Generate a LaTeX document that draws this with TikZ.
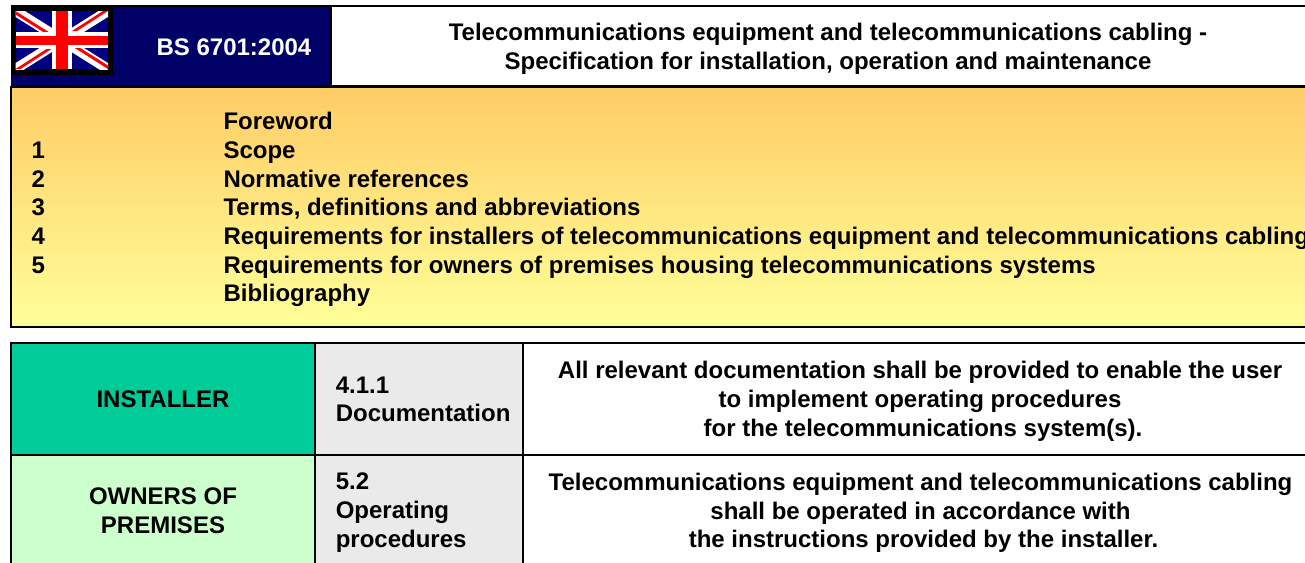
\documentclass[tikz,border=0pt]{standalone}
\usepackage{fontspec}
\setmainfont{Liberation Sans}
\definecolor{hdrnavy}{RGB}{0,0,102}
\definecolor{flagblue}{RGB}{0,0,128}
\definecolor{flagred}{RGB}{255,0,0}
\definecolor{inst}{RGB}{0,204,153}
\definecolor{own}{RGB}{204,255,204}
\definecolor{clausegrey}{RGB}{234,234,234}
\definecolor{orangetop}{RGB}{255,204,102}
\definecolor{yellowbot}{RGB}{255,255,153}
\tikzset{
  cellbox/.style={draw=black,line width=2pt},
  txt/.style={font=\fontsize{24}{28.7}\selectfont\bfseries,text=black,inner sep=0pt,align=center},
  listtxt/.style={font=\fontsize{24}{28.7}\selectfont\bfseries,text=black,inner sep=0pt,anchor=base west},
  clausetxt/.style={font=\fontsize{24}{28.7}\selectfont\bfseries,text=black,inner sep=0pt,align=left,anchor=west},
}
\begin{document}
\begin{tikzpicture}[x=1pt,y=-1pt]
\useasboundingbox (0,0) rectangle (1305,562);
\clip (0,0) rectangle (1305,562);
% header
\fill[hdrnavy] (11,6) rectangle (331,86);
\draw[cellbox,fill=white] (331,6) rectangle (1320,86);
\draw[line width=2pt] (11,6) -- (331,6);
\draw[line width=2pt] (11,86) -- (331,86);
% flag
\fill[black] (11,5) rectangle (113,75);
\begin{scope}
\clip (15.5,11) rectangle (108,69);
\fill[flagblue] (15.5,11) rectangle (108,69);
\draw[white,line width=10pt] (15.5,11) -- (108,69) (15.5,69) -- (108,11);
% counterchanged red diagonals
\fill[flagred] (15.5,11) -- (15.5,14.5) -- (44,32.5) -- (49.5,32.5) -- cycle;
\fill[flagred] (108,69) -- (108,65.5) -- (79.5,47.5) -- (74,47.5) -- cycle;
\fill[flagred] (108,11) -- (103,11) -- (72,31) -- (77,31) -- cycle;
\fill[flagred] (15.5,69) -- (20.5,69) -- (51.5,49) -- (46.5,49) -- cycle;
\fill[white] (51.5,11) rectangle (72,69);
\fill[white] (15.5,32) rectangle (108,48);
\fill[flagred] (55.5,11) rectangle (68,69);
\fill[flagred] (15.5,35.5) rectangle (108,45);
\end{scope}
\node[txt,text=white] (code) at (234,47.5) {BS 6701:2004};
\node[txt] (title) at (828,48.5) {Telecommunications equipment and telecommunications cabling -\\Specification for installation, operation and maintenance};
% contents panel
\draw[cellbox,top color=orangetop,bottom color=yellowbot,middle color=orangetop!50!yellowbot] (11,86.5) rectangle (1320,326.5);
\node[listtxt] (t0) at (223.3,129) {Foreword};
\node[listtxt] (n1) at (31.3,158) {1};
\node[listtxt] (t1) at (223.3,158) {Scope};
\node[listtxt] (n2) at (31.3,187) {2};
\node[listtxt] (t2) at (223.3,187) {Normative references};
\node[listtxt] (n3) at (31.3,215.5) {3};
\node[listtxt] (t3) at (223.3,215.5) {Terms, definitions and abbreviations};
\node[listtxt] (n4) at (31.3,244) {4};
\node[listtxt] (t4) at (223.3,244) {Requirements for installers of telecommunications equipment and telecommunications cabling};
\node[listtxt] (n5) at (31.3,273) {5};
\node[listtxt] (t5) at (223.3,273) {Requirements for owners of premises housing telecommunications systems};
\node[listtxt] (t6) at (223.3,301.5) {Bibliography};
% table
\draw[cellbox,fill=inst] (11,342.5) rectangle (315,454.5);
\draw[cellbox,fill=clausegrey] (315,342.5) rectangle (523,454.5);
\draw[cellbox,fill=white] (523,342.5) rectangle (1320,454.5);
\draw[cellbox,fill=own] (11,454.5) rectangle (315,580);
\draw[cellbox,fill=clausegrey] (315,454.5) rectangle (523,580);
\draw[cellbox,fill=white] (523,454.5) rectangle (1320,580);
\node[txt] (installer) at (163,399) {INSTALLER};
\node[txt] (owners) at (163,511) {OWNERS OF\\PREMISES};
\node[clausetxt] (c1) at (335.6,399.5) {4.1.1\\Documentation};
\node[clausetxt] (c2) at (335.6,512.8) {5.2\\Operating\\procedures};
\node[txt] (d1) at (920,401.2) {All relevant documentation shall be provided to enable the user\\to implement operating procedures\\\hspace*{6pt}for the telecommunications system(s).};
\node[txt] (d2) at (920.5,513) {Telecommunications equipment and telecommunications cabling\\shall be operated in accordance with\\\hspace*{6pt}the instructions provided by the installer.};
\end{tikzpicture}
\end{document}
